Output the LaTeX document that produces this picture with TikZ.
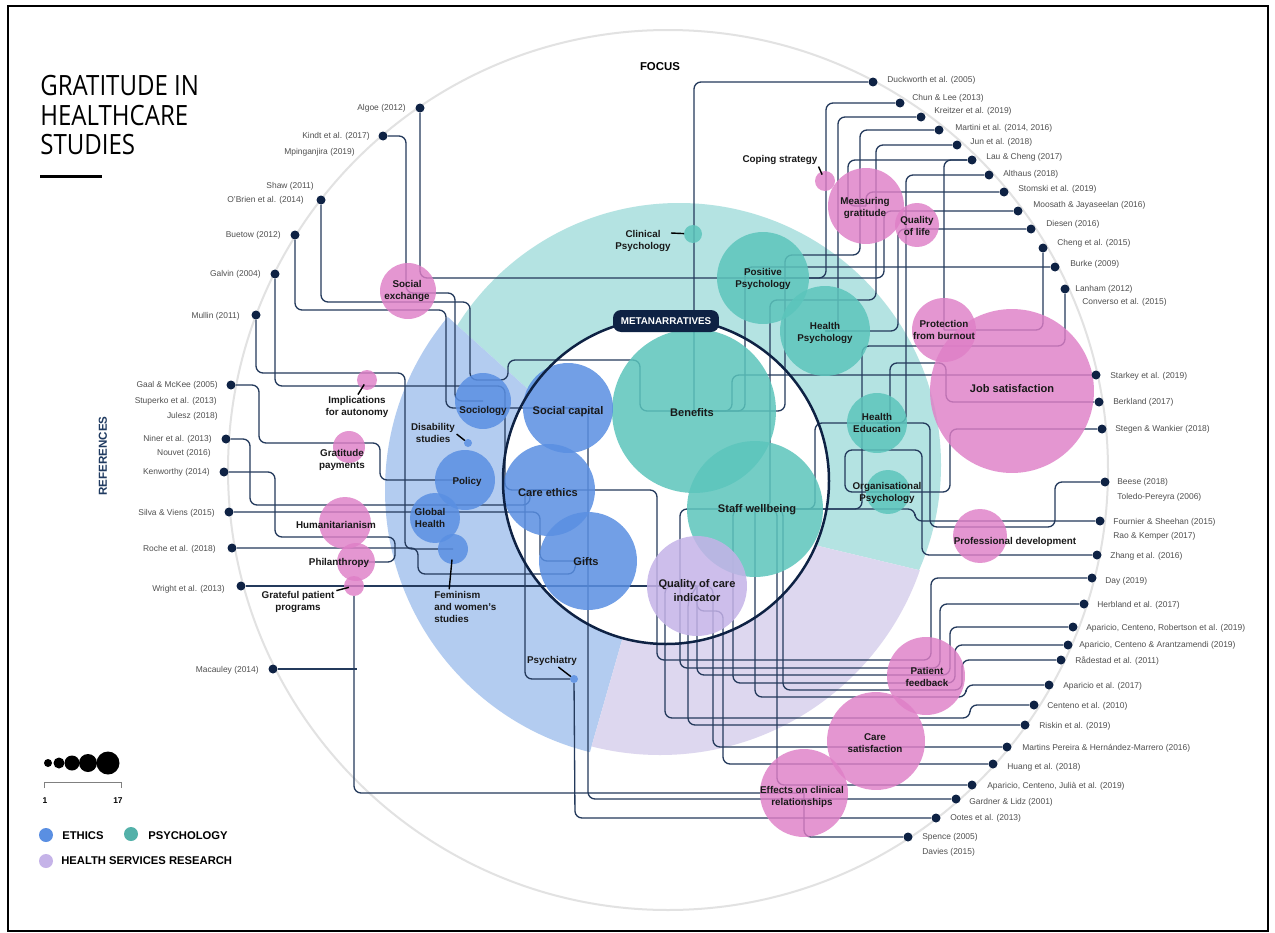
\documentclass[tikz,border=0pt]{standalone}
\usepackage{fontspec}
\setmainfont{Liberation Sans}
\newfontfamily\titlefont{Open Sans}
\usepackage{graphicx}
\pgfdeclarelayer{bg}\pgfdeclarelayer{bub}\pgfdeclarelayer{fg}
\pgfsetlayers{bg,main,bub,fg}
\definecolor{cnavy}{HTML}{0E2244}
\definecolor{clinec}{HTML}{243A5C}
\definecolor{ctealbg}{HTML}{B4E3E2}
\definecolor{cbluebg}{HTML}{B3CCF0}
\definecolor{clavbg}{HTML}{DDD7EF}
\definecolor{cethic}{HTML}{5A8FE2}
\definecolor{cpsych}{HTML}{5CC5BC}
\definecolor{chsr}{HTML}{C5B3E8}
\definecolor{cpink}{HTML}{DF7FC7}
\definecolor{couter}{HTML}{E2E2E2}
\definecolor{creftext}{HTML}{505050}
\definecolor{crefhead}{HTML}{1F3A60}
\begin{document}
\begin{tikzpicture}[x=0.02cm,y=-0.02cm,
  bub/.style={circle,inner sep=0pt,outer sep=0pt,minimum size=#1*0.04cm,draw=none,fill opacity=0.85},
  eb/.style={bub=#1,fill=cethic},
  pb/.style={bub=#1,fill=cpsych},
  hb/.style={bub=#1,fill=chsr},
  kb/.style={bub=#1,fill=cpink,fill opacity=0.82},
  refdot/.style={circle,fill=cnavy,inner sep=0pt,minimum size=0.18cm},
  reflab/.style={font=\fontsize{4.8}{5.5}\selectfont,text=creftext,inner sep=0pt},
  rl/.style={reflab,anchor=east},
  rr/.style={reflab,anchor=west},
  biglab/.style={font=\bfseries\fontsize{6.3}{8}\selectfont,align=center,inner sep=0pt,text=black!90},
  smlab/.style={font=\bfseries\fontsize{5.6}{6.8}\selectfont,align=center,inner sep=0pt,text=black!90},
  conn/.style={draw=clinec,line width=0.75pt,rounded corners=0.14cm},
  ptr/.style={draw=black,line width=0.8pt},
  legtext/.style={font=\bfseries\fontsize{6.4}{7}\selectfont,anchor=west,inner sep=0pt}]
\useasboundingbox (0,0) rectangle (1275,933);

% ---------- background sectors ----------
\begin{pgfonlayer}{bg}
\fill[white] (0,0) rectangle (1275,933);
\draw[couter,line width=0.04cm] (668,470) circle[radius=440];
\begin{scope}
\clip (660,508) -- (1632,741) -- (1632,-400) -- (-83,-400) -- (-83,-161) -- cycle;
\fill[ctealbg] (679,465) circle[radius=262];
\end{scope}
\begin{scope}
\clip (660,508) -- (-83,-161) -- (-600,-161) -- (-600,1500) -- (384,1469) -- cycle;
\fill[cbluebg] (655,490) circle[radius=270];
\end{scope}
\begin{scope}
\clip (660,508) -- (384,1469) -- (1700,1469) -- (1632,741) -- cycle;
\fill[clavbg] (660,480) circle[radius=275];
\end{scope}
\fill[white] (666,481) circle[radius=163];
\end{pgfonlayer}

% ---------- frame and title ----------
\draw[black,line width=0.03cm] (8,6) rectangle (1268,931);
\node[anchor=north west,inner sep=0pt,align=left,font=\titlefont\fontsize{15.9}{16.8}\selectfont] (title) at (40,75)
 {\scalebox{0.86}[1]{GRATITUDE IN}\\\scalebox{0.86}[1]{HEALTHCARE}\\\scalebox{0.86}[1]{STUDIES}};
\draw[black,line width=0.06cm] (40,176) -- (102,176);
\node[font=\bfseries\fontsize{6.5}{7}\selectfont,inner sep=0pt] (focus) at (660,67) {FOCUS};
\node[font=\bfseries\fontsize{6.6}{7}\selectfont,text=crefhead,rotate=90,inner sep=0pt] (refhead) at (103,456) {REFERENCES};

% ---------- reference dots and labels ----------
\begin{pgfonlayer}{fg}
\node[refdot] (algoe) at (420,108) {};
\node[refdot] (kindt) at (383,136) {};
\node[refdot] (obrien) at (321,200) {};
\node[refdot] (buetow) at (295,235) {};
\node[refdot] (galvin) at (275,274) {};
\node[refdot] (mullin) at (256,315) {};
\node[refdot] (gaal) at (231,385) {};
\node[refdot] (niner) at (226,439) {};
\node[refdot] (kenworthy) at (224,472) {};
\node[refdot] (silva) at (229,512) {};
\node[refdot] (roche) at (232,548) {};
\node[refdot] (wright) at (241,586) {};
\node[refdot] (macauley) at (273,669) {};
\node[refdot] (duck) at (873,82) {};
\node[refdot] (chun) at (900,103) {};
\node[refdot] (kreitzer) at (921,117) {};
\node[refdot] (martini) at (939,130) {};
\node[refdot] (jun) at (957,145) {};
\node[refdot] (lau) at (972,160) {};
\node[refdot] (althaus) at (989,175) {};
\node[refdot] (stomski) at (1004,192) {};
\node[refdot] (moosath) at (1018,211) {};
\node[refdot] (diesen) at (1031,229) {};
\node[refdot] (cheng) at (1043,248) {};
\node[refdot] (burke) at (1055,267) {};
\node[refdot] (lanham) at (1065,289) {};
\node[refdot] (starkey) at (1096,375) {};
\node[refdot] (berkland) at (1099,402) {};
\node[refdot] (stegen) at (1102,429) {};
\node[refdot] (beese) at (1105,482) {};
\node[refdot] (fournier) at (1100,521) {};
\node[refdot] (zhang) at (1097,555) {};
\node[refdot] (day) at (1092,578) {};
\node[refdot] (herbland) at (1084,604) {};
\node[refdot] (apcr) at (1073,627) {};
\node[refdot] (apca) at (1068,645) {};
\node[refdot] (radestad) at (1061,660) {};
\node[refdot] (ap2017) at (1049,685) {};
\node[refdot] (centeno) at (1034,705) {};
\node[refdot] (riskin) at (1025,725) {};
\node[refdot] (martins) at (1007,747) {};
\node[refdot] (huang) at (993,764) {};
\node[refdot] (apcj) at (972,785) {};
\node[refdot] (gardner) at (956,799) {};
\node[refdot] (ootes) at (936,818) {};
\node[refdot] (spence) at (908,837) {};

\node[rl] (lalgoe) at (406,108) {Algoe (2012)};
\node[rl] (lkindt) at (370,136) {Kindt et al. (2017)};
\node[rl] (lmping) at (355,152) {Mpinganjira (2019)};
\node[rl] (lshaw) at (314,186) {Shaw (2011)};
\node[rl] (lobrien) at (304,200) {O'Brien et al. (2014)};
\node[rl] (lbuetow) at (281,235) {Buetow (2012)};
\node[rl] (lgalvin) at (261,274) {Galvin (2004)};
\node[rl] (lmullin) at (240,316) {Mullin (2011)};
\node[rl] (lgaal) at (218,385) {Gaal \& McKee (2005)};
\node[rl] (lstup) at (217,401) {Stuperko et al. (2013)};
\node[rl] (ljulesz) at (218,416) {Julesz (2018)};
\node[rl] (lniner) at (212,439) {Niner et al. (2013)};
\node[rl] (lnouvet) at (211,453) {Nouvet (2016)};
\node[rl] (lkenw) at (210,472) {Kenworthy (2014)};
\node[rl] (lsilva) at (215,513) {Silva \& Viens (2015)};
\node[rl] (lroche) at (216,549) {Roche et al. (2018)};
\node[rl] (lwright) at (225,589) {Wright et al. (2013)};
\node[rl] (lmacau) at (259,670) {Macauley (2014)};

\node[rr] (lduck) at (887,80) {Duckworth et al. (2005)};
\node[rr] (lchun) at (912,98) {Chun \& Lee (2013)};
\node[rr] (lkreit) at (934,111) {Kreitzer et al. (2019)};
\node[rr] (lmart) at (955,128) {Martini et al. (2014, 2016)};
\node[rr] (ljun) at (970,142) {Jun et al. (2018)};
\node[rr] (llau) at (986,157) {Lau \& Cheng (2017)};
\node[rr] (lalth) at (1003,174) {Althaus (2018)};
\node[rr] (lstom) at (1018,189) {Stomski et al. (2019)};
\node[rr] (lmoos) at (1033,205) {Moosath \& Jayaseelan (2016)};
\node[rr] (ldies) at (1046,224) {Diesen (2016)};
\node[rr] (lcheng) at (1057,243) {Cheng et al. (2015)};
\node[rr] (lburke) at (1070,264) {Burke (2009)};
\node[rr] (llanh) at (1075,289) {Lanham (2012)};
\node[rr] (lconv) at (1082,302) {Converso et al. (2015)};
\node[rr] (lstark) at (1110,376) {Starkey et al. (2019)};
\node[rr] (lberk) at (1113,402) {Berkland (2017)};
\node[rr] (lsteg) at (1115,429) {Stegen \& Wankier (2018)};
\node[rr] (lbeese) at (1117,482) {Beese (2018)};
\node[rr] (ltoledo) at (1117,497) {Toledo-Pereyra (2006)};
\node[rr] (lfourn) at (1113,522) {Fournier \& Sheehan (2015)};
\node[rr] (lrao) at (1113,536) {Rao \& Kemper (2017)};
\node[rr] (lzhang) at (1110,556) {Zhang et al. (2016)};
\node[rr] (lday) at (1105,581) {Day (2019)};
\node[rr] (lherb) at (1097,605) {Herbland et al. (2017)};
\node[rr] (lapcr) at (1086,628) {Aparicio, Centeno, Robertson et al. (2019)};
\node[rr] (lapca) at (1079,645) {Aparicio, Centeno \& Arantzamendi (2019)};
\node[rr] (lrade) at (1075,661) {Rådestad et al. (2011)};
\node[rr] (lap17) at (1063,686) {Aparicio et al. (2017)};
\node[rr] (lcent) at (1047,706) {Centeno et al. (2010)};
\node[rr] (lrisk) at (1039,726) {Riskin et al. (2019)};
\node[rr] (lmartp) at (1022,748) {Martins Pereira \& Hernández-Marrero (2016)};
\node[rr] (lhuang) at (1007,767) {Huang et al. (2018)};
\node[rr] (lapcj) at (987,786) {Aparicio, Centeno, Julià et al. (2019)};
\node[rr] (lgard) at (969,802) {Gardner \& Lidz (2001)};
\node[rr] (lootes) at (950,818) {Ootes et al. (2013)};
\node[rr] (lspence) at (922,837) {Spence (2005)};
\node[rr] (ldavies) at (922,852) {Davies (2015)};
\end{pgfonlayer}

% ---------- bubbles ----------
\begin{pgfonlayer}{bub}
\node[pb=82] (benef) at (694,411) {};
\node[pb=68] (staffw) at (755,509) {};
\node[pb=46] (pospsy) at (763,278) {};
\node[pb=45] (healthpsy) at (825,331) {};
\node[pb=9] (clinpsy) at (693,234) {};
\node[pb=30] (healthed) at (877,423) {};
\node[pb=22] (orgpsy) at (888,492) {};
\node[eb=45] (socap) at (568,408) {};
\node[eb=46] (careeth) at (549,490) {};
\node[eb=49] (gifts) at (588,561) {};
\node[eb=28] (sociol) at (483,401) {};
\node[eb=4] (disab) at (468,443) {};
\node[eb=30] (policy) at (465,480) {};
\node[eb=25] (globh) at (435,518) {};
\node[eb=15] (femin) at (453,549) {};
\node[eb=4] (psychiatry) at (574,679) {};
\node[hb=50] (qoc) at (697,586) {};
\node[kb=28] (socexch) at (408,291) {};
\node[kb=10] (implaut) at (367,380) {};
\node[kb=16] (gratpay) at (349,447) {};
\node[kb=26] (human) at (345,523) {};
\node[kb=19] (philan) at (356,562) {};
\node[kb=10] (gpp) at (354,586) {};
\node[kb=10] (coping) at (825,181) {};
\node[kb=38] (measgrat) at (866,206) {};
\node[kb=22] (qol) at (917,225) {};
\node[kb=32] (protect) at (944,330) {};
\node[kb=82] (jobsat) at (1012,391) {};
\node[kb=27] (profdev) at (980,536) {};
\node[kb=39] (patfb) at (926,676) {};
\node[kb=49] (caresat) at (876,741) {};
\node[kb=44] (effects) at (804,793) {};
\end{pgfonlayer}

% ---------- connectors ----------
\coordinate (mjoin) at (357,669);
\coordinate (clinptr) at (671,233);
\draw[conn] (algoe) |- (pospsy.center);
\draw[conn] (kindt) -- (406,136) -- (406,293) -- (455,293) -- (455,401) -- (sociol.center);
\draw[conn] (obrien) -- (321,302) -- (470,302) -- (470,380) -- (508,380) -- (508,360) -- (640,360) -- (640,411) -- (benef.center);
\draw[conn] (buetow) -- (295,310) -- (446,310) -- (446,408) -- (socap.center);
\draw[conn] (galvin) -- (275,386) -- (505,386) -- (505,490) -- (careeth.center);
\draw[conn] (mullin) -- (256,373) -- (405,373) -- (405,549) -- (femin.center);
\draw[conn] (gaal) -- (259,385) -- (259,443) -- (380,443) -- (380,480) -- (policy.center);
\draw[conn] (niner) -- (250,439) -- (250,505) -- (530,505) -- (530,490) -- (careeth.center);
\draw[conn] (kenworthy) -- (275,472) -- (275,537) -- (395,537) -- (395,562) -- (philan.center);
\draw[conn] (silva) -- (540,512) -- (540,561) -- (gifts.center);
\draw[conn] (roche) -- (418,548) -- (418,574) -- (575,574) -- (575,561) -- (gifts.center);
\draw[conn] (wright) -- (qoc.center);
\draw[conn] (gpp) |- (effects.center);
\draw[conn] (macauley) -- (mjoin);
\draw[conn] (duck) -| (benef.center);
\draw[conn] (chun) -- (826,103) -- (826,278) -- (pospsy.center);
\draw[conn] (kreitzer) -- (838,117) -- (838,331) -- (healthpsy.center);
\draw[conn] (martini) -- (860,130) -- (860,255) -- (785,255) -- (785,411) -- (benef.center);
\draw[conn] (jun) -- (876,145) -- (876,300) -- (770,300) -- (770,509) -- (staffw.center);
\draw[conn] (lau) -| (protect.center);
\draw[conn] (lau) -- (848,160) -- (848,206) -- (measgrat.center);
\draw[conn] (althaus) -- (906,175) -- (906,423) -- (healthed.center);
\draw[conn] (stomski) -| (measgrat.center);
\draw[conn] (moosath) -- (884,211) -- (884,278) -- (pospsy.center);
\draw[conn] (diesen) -- (898,229) -- (898,331) -- (healthpsy.center);
\draw[conn] (cheng) |- (protect.center);
\draw[conn] (burke) -- (745,267) -- (745,411) -- (benef.center);
\draw[conn] (lanham) -- (1065,346) -- (862,346) -- (862,509) -- (staffw.center);
\draw[conn] (starkey) -- (732,375) -- (732,411) -- (benef.center);
\draw[conn] (berkland) -- (946,402) -- (946,363) -- (890,363) -- (890,423) -- (healthed.center);
\draw[conn] (stegen) -- (950,429) -- (950,492) -- (orgpsy.center);
\draw[conn] (beese) -- (1055,482) -- (1055,527) -- (930,527) -- (930,423) -- (healthed.center);
\draw[conn] (fournier) -- (915,521) -- (915,509) -- (staffw.center);
\draw[conn] (zhang) -- (922,555) -- (922,450) -- (845,450) -- (845,492) -- (orgpsy.center);
\draw[conn] (day) -- (931,578) -- (931,660) -- (657,660) -- (657,490) -- (careeth.center);
\draw[conn] (herbland) -- (940,604) -- (940,668) -- (680,668) -- (680,509) -- (staffw.center);
\draw[conn] (apcr) -- (950,627) -- (950,675) -- (697,675) -- (qoc.center);
\draw[conn] (apca) -- (955,645) -- (955,683) -- (733,683) -- (733,509) -- (staffw.center);
\draw[conn] (radestad) -- (962,660) -- (962,690) -- (783,690) -- (783,509) -- (staffw.center);
\draw[conn] (ap2017) -- (966,685) -- (966,697) -- (755,697) -- (staffw.center);
\draw[conn] (centeno) -- (970,705) -- (970,718) -- (665,718) -- (665,586) -- (qoc.center);
\draw[conn] (riskin) -- (688,725) -- (688,600) -- (qoc.center);
\draw[conn] (martins) -- (713,747) -- (713,586) -- (qoc.center);
\draw[conn] (huang) -- (723,764) -- (723,611) -- (697,611) -- (qoc.center);
\draw[conn] (apcj) -- (777,785) -- (777,509) -- (staffw.center);
\draw[conn] (gardner) -- (588,799) -- (gifts.center);
\draw[conn] (ootes) -- (575,818) -- (psychiatry);
\draw[conn] (spence) -- (804,837) -- (effects.center);
\draw[conn] (psychiatry) -- (525,679) -- (525,490) -- (careeth.center);
\draw[conn] (socap.center) -| (gifts.center);
\draw[conn] (healthed.center) -- (815,423) -- (815,509) -- (staffw.center);

% ---------- metanarratives ring ----------
\begin{pgfonlayer}{fg}
\draw[cnavy,line width=0.05cm] (666,481) circle[radius=163];
\node[fill=cnavy,text=white,rounded corners=0.16cm,minimum width=2.12cm,minimum height=0.44cm,inner sep=0pt,
  font=\bfseries\fontsize{5.6}{6}\selectfont] (meta) at (666,321) {METANARRATIVES};

% ---------- bubble labels ----------
\node[biglab] (lbenef) at (692,413) {Benefits};
\node[biglab] (lstaff) at (757,510) {Staff wellbeing};
\node[biglab] (lsocap) at (568,412) {Social capital};
\node[biglab] (lcare) at (548,493) {Care ethics};
\node[biglab] (lgifts) at (586,562) {Gifts};
\node[biglab] (lqoc) at (697,591) {Quality of care\\indicator};
\node[biglab] (ljob) at (1012,389) {Job satisfaction};
\node[smlab] (lpos) at (763,279) {Positive\\Psychology};
\node[smlab] (lhpsy) at (825,333) {Health\\Psychology};
\node[smlab] (lclin) at (643,241) {Clinical\\Psychology};
\node[smlab] (lhed) at (877,423) {Health\\Education};
\node[smlab] (lorg) at (887,493) {Organisational\\Psychology};
\node[smlab] (lsoc) at (483,411) {Sociology};
\node[smlab] (ldis) at (433,433) {Disability\\studies};
\node[smlab] (lpol) at (467,482) {Policy};
\node[smlab] (lglob) at (430,518) {Global\\Health};
\node[smlab,align=left,anchor=north west] (lfem) at (434,591) {Feminism\\and women's\\studies};
\node[smlab] (lpsyc) at (552,661) {Psychiatry};
\node[smlab] (lsex) at (407,291) {Social\\exchange};
\node[smlab] (limp) at (357,407) {Implications\\for autonomy};
\node[smlab] (lgrat) at (342,460) {Gratitude\\payments};
\node[smlab] (lhum) at (336,525) {Humanitarianism};
\node[smlab] (lphil) at (339,563) {Philanthropy};
\node[smlab] (lgpp) at (298,602) {Grateful patient\\programs};
\node[smlab] (lcop) at (780,160) {Coping strategy};
\node[smlab] (lmeas) at (865,208) {Measuring\\gratitude};
\node[smlab] (lqol) at (917,226) {Quality\\of life};
\node[smlab] (lprot) at (944,330) {Protection\\from burnout};
\node[smlab] (lprof) at (1015,542) {Professional development};
\node[smlab] (lpat) at (927,677) {Patient\\feedback};
\node[smlab] (lcsat) at (875,743) {Care\\satisfaction};
\node[smlab] (leff) at (802,797) {Effects on clinical\\relationships};

% pointers
\draw[ptr,shorten <=1pt,shorten >=3pt] (limp.north) -- (implaut.center);
\draw[ptr,shorten <=1pt] (ldis.east) -- (disab);
\draw[ptr,shorten <=1pt,shorten >=6pt] ([xshift=0.3cm]lfem.north west) -- (femin.center);
\draw[ptr,shorten <=1pt] ([xshift=0.1cm]lpsyc.south) -- (psychiatry);
\draw[ptr,shorten <=1pt,shorten >=4pt] (lcop.south east) -- (coping.center);
\draw[ptr] (clinptr) -- (clinpsy);
\draw[ptr,shorten <=1pt,shorten >=3pt] (lgpp.north east) -- (gpp.center);

% ---------- legend ----------
\fill[black] (48,763) circle[radius=4];
\fill[black] (59,763) circle[radius=5.5];
\fill[black] (72,763) circle[radius=7.5];
\fill[black] (88,763) circle[radius=9];
\fill[black] (108,763) circle[radius=11.5];
\draw[gray,line width=0.02cm] (44,788) -- (44,782) -- (121,782) -- (121,788);
\node[font=\bfseries\fontsize{4.8}{5}\selectfont,inner sep=0pt] (lone) at (45,801) {1};
\node[font=\bfseries\fontsize{4.8}{5}\selectfont,inner sep=0pt] (lseventeen) at (118,801) {17};
\fill[cethic] (46,835) circle[radius=7];
\node[legtext] (leth) at (62,836) {ETHICS};
\fill[cpsych!90!black] (131,834) circle[radius=7];
\node[legtext] (lpsy) at (148,836) {PSYCHOLOGY};
\fill[chsr] (46,861) circle[radius=7];
\node[legtext] (lhsr) at (61,861) {HEALTH SERVICES RESEARCH};
\end{pgfonlayer}
\end{tikzpicture}
\end{document}
